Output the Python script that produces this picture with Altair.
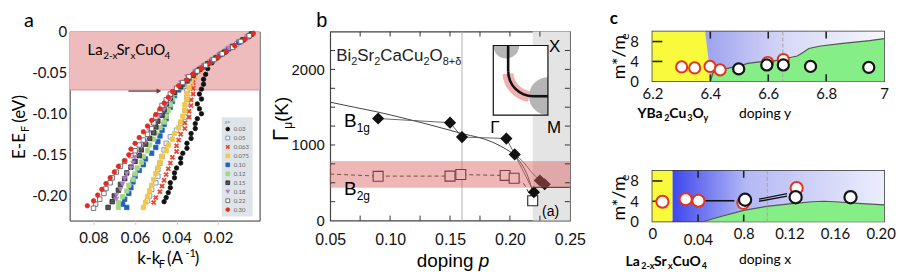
import altair as alt
import pandas as pd

FA = "Lato"
FB = "Liberation Sans"
PI = 3.14159265

# ===================== DATA : panel a (LSCO dispersions) =====================
a_dopings = ["0.03", "0.05", "0.063", "0.075", "0.10", "0.12", "0.15", "0.18", "0.22", "0.30"]
XPATH = "M-1,-0.6L-0.6,-1L0,-0.4L0.6,-1L1,-0.6L0.4,0L1,0.6L0.6,1L0,0.4L-0.6,1L-1,0.6L-0.4,0Z"
a_fill = ["#111111", "#ffffff", "#e5432b", "#f3c64a", "#1f5fbf", "#a5d585", "#555555", "#b27cc8", "#ffffff", "#e8281e"]
a_stroke = ["#111111", "#5a7ec6", "#e5432b", "#f3c64a", "#1f5fbf", "#a5d585", "#222222", "#b27cc8", "#555555", "#e8281e"]
a_shape = ["circle", "square", XPATH, "square", "square", "square", "square", "triangle-down", "square", "circle"]

k_003 = [0.004, 0.008, 0.012, 0.016, 0.020, 0.023, 0.025, 0.026, 0.027, 0.027, 0.028, 0.029, 0.028, 0.030, 0.029, 0.028, 0.030, 0.031, 0.031, 0.033, 0.033, 0.035, 0.035, 0.037, 0.038, 0.038, 0.040, 0.041, 0.041, 0.043, 0.043, 0.044, 0.045, 0.046]
E_003 = [-0.003, -0.010, -0.017, -0.024, -0.031, -0.038, -0.045, -0.052, -0.058, -0.064, -0.070, -0.076, -0.082, -0.088, -0.094, -0.100, -0.106, -0.112, -0.118, -0.124, -0.130, -0.136, -0.142, -0.148, -0.154, -0.160, -0.166, -0.172, -0.178, -0.184, -0.190, -0.196, -0.202, -0.207]
k_050 = [0.006, 0.011, 0.016, 0.020, 0.024, 0.028, 0.031, 0.033, 0.034, 0.035, 0.035, 0.035, 0.036, 0.036, 0.038, 0.040, 0.043, 0.045, 0.046, 0.047, 0.048, 0.049, 0.049, 0.050, 0.052, 0.053, 0.054]
E_050 = [-0.007, -0.015, -0.023, -0.030, -0.037, -0.044, -0.051, -0.058, -0.065, -0.072, -0.080, -0.088, -0.096, -0.104, -0.112, -0.120, -0.128, -0.136, -0.144, -0.152, -0.160, -0.168, -0.176, -0.184, -0.192, -0.200, -0.206]
k_063 = [0.005, 0.010, 0.014, 0.018, 0.022, 0.026, 0.029, 0.031, 0.032, 0.032, 0.032, 0.033, 0.033, 0.034, 0.034, 0.036, 0.036, 0.038, 0.039, 0.040, 0.040, 0.042, 0.043, 0.044, 0.045, 0.046, 0.047, 0.048, 0.050, 0.051]
E_063 = [-0.006, -0.013, -0.020, -0.027, -0.034, -0.041, -0.048, -0.055, -0.062, -0.069, -0.076, -0.083, -0.090, -0.097, -0.104, -0.111, -0.118, -0.125, -0.132, -0.139, -0.146, -0.153, -0.160, -0.167, -0.174, -0.181, -0.188, -0.195, -0.202, -0.208]
k_075 = [0.004, 0.009, 0.013, 0.017, 0.021, 0.025, 0.028, 0.031, 0.033, 0.034, 0.035, 0.035, 0.036, 0.036, 0.037, 0.038, 0.039, 0.041, 0.042, 0.044, 0.045, 0.047, 0.048, 0.049, 0.050, 0.051, 0.052, 0.053, 0.054, 0.055, 0.056]
E_075 = [-0.004, -0.012, -0.019, -0.026, -0.033, -0.040, -0.047, -0.054, -0.061, -0.068, -0.075, -0.082, -0.089, -0.096, -0.103, -0.110, -0.117, -0.124, -0.131, -0.138, -0.145, -0.152, -0.159, -0.166, -0.173, -0.180, -0.187, -0.194, -0.201, -0.208, -0.214]
k_010 = [0.005, 0.010, 0.015, 0.019, 0.023, 0.027, 0.031, 0.034, 0.037, 0.039, 0.041, 0.042, 0.043, 0.045, 0.045, 0.046, 0.047, 0.048, 0.049, 0.050, 0.052, 0.055, 0.056, 0.058, 0.060, 0.061, 0.062, 0.063, 0.065, 0.066, 0.064]
E_010 = [-0.005, -0.013, -0.021, -0.028, -0.036, -0.043, -0.050, -0.057, -0.064, -0.071, -0.078, -0.085, -0.092, -0.099, -0.106, -0.113, -0.120, -0.127, -0.134, -0.141, -0.148, -0.155, -0.162, -0.169, -0.176, -0.183, -0.190, -0.197, -0.204, -0.210, -0.214]
k_012 = [0.005, 0.009, 0.014, 0.018, 0.022, 0.026, 0.030, 0.033, 0.036, 0.039, 0.041, 0.042, 0.043, 0.044, 0.045, 0.046, 0.048, 0.050, 0.051, 0.053, 0.054, 0.056, 0.057, 0.059, 0.060, 0.061, 0.063, 0.064, 0.066, 0.068, 0.068]
E_012 = [-0.004, -0.011, -0.019, -0.026, -0.033, -0.040, -0.047, -0.054, -0.061, -0.068, -0.075, -0.082, -0.089, -0.096, -0.103, -0.110, -0.117, -0.124, -0.131, -0.138, -0.145, -0.152, -0.159, -0.166, -0.173, -0.180, -0.187, -0.194, -0.201, -0.208, -0.214]
k_015 = [0.004, 0.008, 0.013, 0.017, 0.021, 0.025, 0.029, 0.032, 0.035, 0.038, 0.041, 0.043, 0.045, 0.046, 0.047, 0.049, 0.050, 0.051, 0.053, 0.055, 0.057, 0.058, 0.060, 0.062, 0.064, 0.065, 0.067, 0.068, 0.070, 0.071, 0.073]
E_015 = [-0.003, -0.010, -0.018, -0.025, -0.032, -0.039, -0.046, -0.053, -0.060, -0.067, -0.074, -0.081, -0.088, -0.095, -0.102, -0.109, -0.116, -0.123, -0.130, -0.137, -0.144, -0.151, -0.158, -0.165, -0.172, -0.179, -0.186, -0.193, -0.200, -0.207, -0.214]
k_018 = [0.006, 0.010, 0.015, 0.019, 0.023, 0.027, 0.031, 0.035, 0.038, 0.040, 0.042, 0.043, 0.045, 0.046, 0.048, 0.050, 0.051, 0.053, 0.054, 0.055, 0.057, 0.059, 0.060, 0.061, 0.062, 0.064, 0.065, 0.066, 0.067, 0.069, 0.069]
E_018 = [-0.006, -0.012, -0.020, -0.027, -0.034, -0.041, -0.048, -0.055, -0.062, -0.069, -0.076, -0.082, -0.089, -0.095, -0.101, -0.108, -0.114, -0.121, -0.127, -0.134, -0.140, -0.147, -0.153, -0.160, -0.166, -0.173, -0.179, -0.186, -0.192, -0.199, -0.204]
k_022 = [0.005, 0.009, 0.013, 0.018, 0.022, 0.026, 0.030, 0.034, 0.037, 0.040, 0.043, 0.045, 0.047, 0.048, 0.050, 0.051, 0.052, 0.054, 0.056, 0.058, 0.060, 0.062, 0.065, 0.067, 0.069, 0.071, 0.072, 0.074, 0.075, 0.077, 0.079, 0.080]
E_022 = [-0.005, -0.012, -0.019, -0.027, -0.034, -0.041, -0.048, -0.055, -0.062, -0.069, -0.076, -0.083, -0.090, -0.097, -0.104, -0.111, -0.118, -0.125, -0.132, -0.138, -0.145, -0.151, -0.158, -0.164, -0.171, -0.178, -0.184, -0.191, -0.197, -0.204, -0.210, -0.215]
k_030 = [0.003, 0.007, 0.012, 0.016, 0.020, 0.024, 0.028, 0.032, 0.035, 0.039, 0.042, 0.044, 0.046, 0.048, 0.050, 0.052, 0.054, 0.056, 0.058, 0.060, 0.062, 0.063, 0.065, 0.068, 0.070, 0.072, 0.074, 0.076, 0.078, 0.080, 0.083]
E_030 = [-0.002, -0.009, -0.017, -0.024, -0.031, -0.038, -0.045, -0.052, -0.059, -0.066, -0.073, -0.080, -0.087, -0.094, -0.101, -0.108, -0.115, -0.122, -0.129, -0.136, -0.143, -0.150, -0.157, -0.164, -0.171, -0.178, -0.185, -0.192, -0.199, -0.206, -0.212]

a_series = {"0.03": (k_003, E_003), "0.05": (k_050, E_050), "0.063": (k_063, E_063),
            "0.075": (k_075, E_075), "0.10": (k_010, E_010), "0.12": (k_012, E_012),
            "0.15": (k_015, E_015), "0.18": (k_018, E_018), "0.22": (k_022, E_022),
            "0.30": (k_030, E_030)}
a_band_E = [-0.071, 0.0]
a_arrow_k = [0.0632, 0.0485]
a_arrow_E = -0.0724
a_xticks = [0.08, 0.06, 0.04, 0.02]
a_yticks = [0, -0.05, -0.10, -0.15, -0.20]

# ===================== DATA : panel b (Bi2212 Raman) =====================
b1g_p = [0.09, 0.15, 0.16, 0.197, 0.204, 0.22, 0.225, 0.229]
b1g_G = [1350, 1295, 1105, 1085, 875, 375, 530, 480]
b2g_p = [0.09, 0.15, 0.159, 0.196, 0.2035, 0.219]
b2g_G = [585, 588, 610, 597, 560, 262]
b1g_fit_p = [0.05, 0.07, 0.09, 0.11, 0.13, 0.15, 0.16, 0.174, 0.185, 0.195, 0.204, 0.210, 0.214, 0.2177, 0.219]
b1g_fit_G = [1566, 1500, 1435, 1360, 1280, 1195, 1150, 1100, 1040, 960, 860, 740, 620, 450, 370]
b1g_link_p = [0.09, 0.15, 0.16, 0.197, 0.204, 0.22]
b1g_link_G = [1350, 1295, 1105, 1085, 875, 375]
b1g_branch_p = [0.204, 0.212, 0.218, 0.225]
b1g_branch_G = [875, 760, 640, 530]
b2g_line_p = [0.05, 0.09, 0.15, 0.159, 0.196, 0.2035, 0.212, 0.218]
b2g_line_G = [615, 588, 588, 608, 597, 560, 480, 300]
b_band_G = [440, 780]
b_over_p = [0.219, 0.25]
b_opt_p = [0.16]
b_xticks = [0.05, 0.10, 0.15, 0.20, 0.25]
b_yticks = [0, 1000, 2000]
b_minor_G = [250, 500, 750, 1000, 1250, 1500, 1750, 2000, 2250]
b_minor_p = [0.075, 0.1, 0.125, 0.15, 0.175, 0.2, 0.225]
inset_box_p = [0.1861, 0.2317]
inset_box_G = [1395, 2316]
inset_gray_p = [0.1969, 0.2317]
inset_gray_G = [2316, 1645]
inset_arc_p = 0.2193
inset_arc_G = 1974
inset_vert_p = 0.1985
inset_horz_G = 1645

# ===================== DATA : panel c =====================
c1_red_y = [6.301, 6.346, 6.399, 6.434, 6.598, 6.652]
c1_red_m = [2.9, 2.7, 3.0, 2.3, 3.8, 4.4]
c1_blk_y = [6.498, 6.595, 6.652, 6.746, 6.947]
c1_blk_m = [2.5, 3.3, 3.3, 3.0, 2.8]
c1_green_y = [6.40, 6.41, 6.45, 6.50, 6.53, 6.57, 6.62, 6.66, 6.70, 6.72, 6.74, 6.78, 6.85, 6.90, 6.95, 7.0]
c1_green_m = [0.0, 1.8, 2.5, 3.1, 3.6, 3.9, 4.1, 4.6, 5.1, 5.8, 6.6, 7.1, 7.6, 7.9, 8.2, 8.6]
c1_yellow_y = [6.403, 6.382]
c1_yellow_m = [0, 10]
c1_blue_y = [6.38, 7.0]
c1_opt = [6.65]
c1_xticks = [6.2, 6.4, 6.6, 6.8, 7.0]
c1_inticks = [6.4, 6.6, 6.8]

c2_red_x = [0.0088, 0.0292, 0.0403, 0.0797, 0.1264]
c2_red_m = [3.9, 4.4, 4.1, 3.7, 6.6]
c2_blk_x = [0.0812, 0.1255, 0.1736]
c2_blk_m = [4.3, 4.8, 4.8]
c2_green_x = [0.045, 0.06, 0.08, 0.10, 0.12, 0.14, 0.15, 0.16, 0.18, 0.203]
c2_green_m = [0.0, 1.0, 2.2, 3.0, 3.5, 3.9, 4.0, 3.9, 3.6, 3.3]
c2_yellow_x = [0.0, 0.0175]
c2_opt = [0.1007]
c2_dash_x = [0.0464, 0.0718]
c2_dash_m = [4.1, 4.1]
c2_slant_x1 = [0.0934, 0.0934]
c2_slant_x2 = [0.118, 0.118]
c2_slant_m1 = [4.0, 4.4]
c2_slant_m2 = [5.0, 5.5]
c2_xticks = [0, 0.04, 0.08, 0.12, 0.16, 0.2]
c2_inticks = [0.04, 0.08]
c_yticks = [0, 4, 8]
c_inyticks = [4, 8]

# ===================== helpers =====================
CW = {"A": .667, "B": .667, "C": .722, "E": .667, "F": .611, "K": .667, "L": .556, "M": .833,
      "O": .778, "S": .667, "X": .667, "Y": .667, "Γ": .556, "a": .556, "b": .556, "c": .5,
      "d": .556, "e": .556, "g": .556, "i": .222, "k": .5, "l": .222, "m": .833, "n": .556,
      "o": .556, "p": .556, "r": .333, "u": .556, "V": .667, "x": .5, "y": .5, ".": .278,
      "-": .333, "+": .584, "(": .333, ")": .333, " ": .278, "*": .389, "/": .278, "δ": .556,
      "μ": .576}


def tw(s, size, font, bold=False):
    f = 0.95 if font == FA else 1.0
    if bold:
        f *= 1.07
    return sum(CW.get(ch, 0.556) for ch in s) * size * f


def rich(parts, x, y, font, weight="normal", color="black", angle=0):
    """parts: (text, size, baseline shift[, style[, extra gap before]])"""
    out = []
    pos = 0.0
    for part in parts:
        txt, size, shift = part[0], part[1], part[2]
        style = part[3] if len(part) > 3 else "normal"
        gap = part[4] if len(part) > 4 else 0
        pos += gap
        if angle == 0:
            px, py = x + pos, y + shift
        else:
            px, py = x + shift, y - pos
        out.append(
            alt.Chart(pd.DataFrame({"t": [txt]}))
            .mark_text(align="left", baseline="alphabetic", font=font, fontSize=size,
                       fontWeight=weight, fontStyle=style, color=color, angle=angle)
            .encode(text="t:N", x=alt.value(px), y=alt.value(py))
        )
        pos += tw(txt, size, font, weight == "bold")
    return out


def label(txt, x, y, font, size, weight="normal", color="black"):
    return rich([(txt, size, 0)], x, y, font, weight, color)


# ===================== panel a =====================
WA, HA = 191, 190
xa = alt.Scale(domain=[0, 0.0915], reverse=True, nice=False, zero=False)
ya = alt.Scale(domain=[-0.23, 0], nice=False, zero=False)
ax_a_x = alt.Axis(values=a_xticks, format=".2f", title=None, grid=False, domain=False,
                  tickColor="#c8c8c8", tickSize=4, labelFont=FA, labelFontSize=15,
                  labelColor="#111", labelPadding=6, labelFlush=False)
ax_a_y = alt.Axis(values=a_yticks, title=None, grid=False, domain=False, ticks=False,
                  labelExpr="datum.value == 0 ? '0' : '-' + format(-datum.value, '.2f')",
                  labelFont=FA, labelFontSize=15, labelColor="#111", labelPadding=3,
                  labelFlush=False)


def XA(f):
    return alt.X(f, scale=xa, axis=ax_a_x)


def YA(f):
    return alt.Y(f, scale=ya, axis=ax_a_y)


rows = []
for i, d in enumerate(a_dopings):
    ks, Es = a_series[d]
    for kk, ee in zip(ks, Es):
        rows.append({"k": kk, "E": ee, "x": d, "o": i})
df_a = pd.DataFrame(rows)

band_a = alt.Chart(pd.DataFrame({"k1": [0.0], "k2": [0.0915], "E1": [a_band_E[0]], "E2": [a_band_E[1]]})) \
    .mark_rect(color="#eebcbc").encode(x=XA("k1:Q"), x2="k2:Q", y=YA("E1:Q"), y2="E2:Q")
band_edge_a = alt.Chart(pd.DataFrame({"E": [a_band_E[0]]})).mark_rule(color="#e08c8c", strokeWidth=1) \
    .encode(y=YA("E:Q"))
arrow_a = alt.Chart(pd.DataFrame({"k1": [a_arrow_k[0]], "k2": [a_arrow_k[1]], "E": [a_arrow_E]})) \
    .mark_rule(color="#6a3b3b", strokeWidth=1.3).encode(x=XA("k1:Q"), x2="k2:Q", y=YA("E:Q"))
head_a = alt.Chart(pd.DataFrame({"k": [a_arrow_k[1]], "E": [a_arrow_E]})) \
    .mark_point(shape="triangle-right", filled=True, size=28, color="#6a3b3b", opacity=1) \
    .encode(x=XA("k:Q"), y=YA("E:Q"))

leg_a = alt.Legend(title="x=", orient="none", legendX=153, legendY=86, fillColor="#dfe4e8",
                   padding=3, titleFontSize=5, titleFontWeight="normal", titleColor="#888",
                   titleFont=FA, labelFont=FA, labelFontSize=6, labelColor="#666", symbolSize=14,
                   rowPadding=1, titlePadding=1, labelOffset=3, symbolStrokeWidth=0.8)
pts_a = alt.Chart(df_a).mark_point(filled=True, size=20, strokeWidth=0.8, opacity=1).encode(
    x=XA("k:Q"), y=YA("E:Q"),
    fill=alt.Fill("x:N", scale=alt.Scale(domain=a_dopings, range=a_fill), legend=leg_a),
    stroke=alt.Stroke("x:N", scale=alt.Scale(domain=a_dopings, range=a_stroke), legend=leg_a),
    shape=alt.Shape("x:N", scale=alt.Scale(domain=a_dopings, range=a_shape), legend=leg_a),
)

texts_a = []
texts_a += label("a", -46, -5, FA, 20)
texts_a += rich([("La", 15, 0), ("2-x", 10, 4), ("Sr", 15, 0), ("x", 10, 4), ("CuO", 15, 0), ("4", 10, 4)],
                18, 24, FA)
texts_a += rich([("E-E", 17, 0), ("F", 11, 4), (" (eV)", 17, 0, "normal", 3)], -45, 128, FA, angle=270)
texts_a += rich([("k-k", 17, 0), ("F", 11, 4), (" (A", 17, 0, "normal", 2), ("-1", 11, -7, "normal", -2),
                 (")", 17, 0)], 68, 234, FA)

panel_a = alt.layer(band_a, band_edge_a, arrow_a, head_a, pts_a, *texts_a).properties(
    width=WA, height=HA, view=alt.ViewBackground(stroke="#333333", strokeWidth=1))

# ===================== panel b =====================
WB, HB = 241, 190
xb = alt.Scale(domain=[0.05, 0.25], nice=False, zero=False)
yb = alt.Scale(domain=[0, 2500], nice=False)
ax_b_x = alt.Axis(values=b_xticks, format=".2f", title=None, grid=False, domain=False, ticks=False,
                  labelFont=FB, labelFontSize=16, labelColor="#111", labelPadding=11, labelFlush=False)
ax_b_y = alt.Axis(values=b_yticks, format="d", title=None, grid=False, domain=False, ticks=False,
                  labelFont=FB, labelFontSize=15, labelColor="#111", labelPadding=6, labelFlush=False)


def XB(f):
    return alt.X(f, scale=xb, axis=ax_b_x)


def YB(f):
    return alt.Y(f, scale=yb, axis=ax_b_y)


over_b = alt.Chart(pd.DataFrame({"p1": [b_over_p[0]], "p2": [b_over_p[1]], "g1": [0], "g2": [2500]})) \
    .mark_rect(color="#e4e4e4").encode(x=XB("p1:Q"), x2="p2:Q", y=YB("g1:Q"), y2="g2:Q")
opt_b = alt.Chart(pd.DataFrame({"p": b_opt_p})).mark_rule(color="#b0b0b0", strokeWidth=1) \
    .encode(x=XB("p:Q"))
fit_b = alt.Chart(pd.DataFrame({"p": b1g_fit_p, "G": b1g_fit_G})) \
    .mark_line(color="#444", strokeWidth=1, interpolate="monotone").encode(x=XB("p:Q"), y=YB("G:Q"))
link_b = alt.Chart(pd.DataFrame({"p": b1g_link_p, "G": b1g_link_G})) \
    .mark_line(color="#555", strokeWidth=0.9).encode(x=XB("p:Q"), y=YB("G:Q"))
branch_b = alt.Chart(pd.DataFrame({"p": b1g_branch_p, "G": b1g_branch_G})) \
    .mark_line(color="#555", strokeWidth=0.9, interpolate="monotone").encode(x=XB("p:Q"), y=YB("G:Q"))
b2gl_b = alt.Chart(pd.DataFrame({"p": b2g_line_p, "G": b2g_line_G})) \
    .mark_line(color="#333", strokeWidth=1, strokeDash=[4, 3]).encode(x=XB("p:Q"), y=YB("G:Q"))
hline_b = alt.Chart(pd.DataFrame({"p1": [b_over_p[0]], "p2": [b_over_p[1]], "G": [b_band_G[0]]})) \
    .mark_rule(color="#333", strokeWidth=1.3).encode(x=XB("p1:Q"), x2="p2:Q", y=YB("G:Q"))
dia_b = alt.Chart(pd.DataFrame({"p": b1g_p, "G": b1g_G})) \
    .mark_point(shape="diamond", filled=True, size=150, color="#111", opacity=1) \
    .encode(x=XB("p:Q"), y=YB("G:Q"))
sq_b = alt.Chart(pd.DataFrame({"p": b2g_p, "G": b2g_G})) \
    .mark_point(shape="square", fill="white", stroke="#222", strokeWidth=1.1, size=100, opacity=1,
                fillOpacity=1) \
    .encode(x=XB("p:Q"), y=YB("G:Q"))
band_b = alt.Chart(pd.DataFrame({"g1": [b_band_G[0]], "g2": [b_band_G[1]], "p1": [0.05], "p2": [0.25]})) \
    .mark_rect(color="#dd6060", opacity=0.45, stroke="#cc6a6a", strokeWidth=0.8) \
    .encode(x=XB("p1:Q"), x2="p2:Q", y=YB("g1:Q"), y2="g2:Q")
tick_l = alt.Chart(pd.DataFrame({"G": b_minor_G})).mark_rule(color="#333", strokeWidth=1) \
    .encode(y=YB("G:Q"), x=alt.value(0), x2=alt.value(5))
tick_r = alt.Chart(pd.DataFrame({"G": b_minor_G})).mark_rule(color="#333", strokeWidth=1) \
    .encode(y=YB("G:Q"), x=alt.value(WB - 5), x2=alt.value(WB))
tick_t = alt.Chart(pd.DataFrame({"p": b_minor_p})).mark_rule(color="#333", strokeWidth=1) \
    .encode(x=XB("p:Q"), y=alt.value(0), y2=alt.value(5))
tick_bt = alt.Chart(pd.DataFrame({"p": b_minor_p})).mark_rule(color="#333", strokeWidth=1) \
    .encode(x=XB("p:Q"), y=alt.value(HB - 5), y2=alt.value(HB))

# inset (Fermi surface sketch)
inset_df = pd.DataFrame({"p1": [inset_box_p[0]], "p2": [inset_box_p[1]], "g1": [inset_box_G[0]], "g2": [inset_box_G[1]]})
inset_fill = alt.Chart(inset_df).mark_rect(fill="white").encode(x=XB("p1:Q"), x2="p2:Q", y=YB("g1:Q"), y2="g2:Q")
gray1 = alt.Chart(pd.DataFrame({"p": [inset_gray_p[0]], "G": [inset_gray_G[0]]})) \
    .mark_arc(color="#b5b5b5", radius=13, theta=PI / 2, theta2=3 * PI / 2).encode(x=XB("p:Q"), y=YB("G:Q"))
gray2 = alt.Chart(pd.DataFrame({"p": [inset_gray_p[1]], "G": [inset_gray_G[1]]})) \
    .mark_arc(color="#b5b5b5", radius=19, theta=PI, theta2=2 * PI).encode(x=XB("p:Q"), y=YB("G:Q"))
pink_arc = alt.Chart(pd.DataFrame({"p": [inset_arc_p], "G": [inset_arc_G]})) \
    .mark_arc(color="#efb0b0", radius=31, radius2=20, theta=3.3, theta2=4.62).encode(x=XB("p:Q"), y=YB("G:Q"))
blk_arc = alt.Chart(pd.DataFrame({"p": [inset_arc_p], "G": [inset_arc_G]})) \
    .mark_arc(color="#111", radius=26.3, radius2=23.7, theta=PI, theta2=3 * PI / 2).encode(x=XB("p:Q"), y=YB("G:Q"))
blk_v = alt.Chart(pd.DataFrame({"p": [inset_vert_p], "g1": [inset_arc_G], "g2": [inset_box_G[1]]})) \
    .mark_rule(color="#111", strokeWidth=2.6).encode(x=XB("p:Q"), y=YB("g1:Q"), y2="g2:Q")
blk_h = alt.Chart(pd.DataFrame({"p1": [inset_arc_p], "p2": [inset_box_p[1]], "G": [inset_horz_G]})) \
    .mark_rule(color="#111", strokeWidth=2.6).encode(x=XB("p1:Q"), x2="p2:Q", y=YB("G:Q"))
inset_frame = alt.Chart(inset_df).mark_rect(fill=None, fillOpacity=0, stroke="#111", strokeWidth=1.2) \
    .encode(x=XB("p1:Q"), x2="p2:Q", y=YB("g1:Q"), y2="g2:Q")

texts_b = []
texts_b += label("b", -14, -5, FB, 20)
texts_b += rich([("Bi", 17, 0), ("2", 11, 4), ("Sr", 17, 0), ("2", 11, 4), ("CaCu", 17, 0), ("2", 11, 4),
                 ("O", 17, 0), ("8+δ", 11, 4)], 6, 30, FB, color="#222")
texts_b += rich([("B", 19, 0), ("1g", 12, 5)], 14, 96, FB)
texts_b += rich([("B", 19, 0), ("2g", 12, 5)], 14, 164, FB)
texts_b += label("X", 220, 21, FB, 17)
texts_b += label("Γ", 161, 102, FB, 17)
texts_b += label("M", 218, 102, FB, 17)
texts_b += label("(a)", 213, 185, FB, 14)
texts_b += rich([("Γ", 22, 0), ("μ", 12, 4), (" (K)", 19, 0)], -42, 110, FB, angle=270)
texts_b += rich([("doping ", 19, 0), ("p", 19, 0, "italic")], 87, 237, FB)

panel_b = alt.layer(over_b, opt_b, fit_b, link_b, branch_b, b2gl_b, hline_b, sq_b, dia_b, band_b,
                    tick_l, tick_r, tick_t, tick_bt,
                    inset_fill, gray1, gray2, pink_arc, blk_arc, blk_v, blk_h, inset_frame,
                    *texts_b).properties(
    width=WB, height=HB, view=alt.ViewBackground(stroke="#444444", strokeWidth=1.2))

# ===================== panel c =====================
WC, HC1, HC2 = 233, 50, 51
yc = alt.Scale(domain=[0, 10], nice=False)
ax_c_y = alt.Axis(values=c_yticks, title=None, grid=False, domain=False, ticks=False, labelFont=FA,
                  labelFontSize=15, labelColor="#111", labelPadding=14, labelFlush=False)
xc1 = alt.Scale(domain=[6.2, 7.0], nice=False, zero=False)
ax_c1_x = alt.Axis(values=c1_xticks, title=None, grid=False, domain=False, ticks=False, labelFont=FA,
                   labelFontSize=15, labelColor="#111", labelPadding=5, labelFlush=False,
                   labelExpr="datum.value == 7 ? '7' : format(datum.value, '.1f')")
xc2 = alt.Scale(domain=[0, 0.203], nice=False, zero=False)
ax_c2_x = alt.Axis(values=c2_xticks, title=None, grid=False, domain=False, ticks=False, labelFont=FA,
                   labelFontSize=15, labelColor="#111", labelFlush=False,
                   labelPadding={"condition": {"test": "datum.value == 0.04", "value": 11}, "value": 5},
                   labelExpr="datum.value == 0 ? '0' : datum.value == 0.08 ? '0.8' : format(datum.value, '.2f')")


def YC(f):
    return alt.Y(f, scale=yc, axis=ax_c_y)


def XC1(f):
    return alt.X(f, scale=xc1, axis=ax_c1_x)


def XC2(f):
    return alt.X(f, scale=xc2, axis=ax_c2_x)


grad1 = alt.LinearGradient(gradient="linear", x1=0, x2=1, y1=0, y2=0, stops=[
    alt.GradientStop(color="#9ca1ee", offset=0), alt.GradientStop(color="#d6d8f7", offset=0.45),
    alt.GradientStop(color="#f7f7fd", offset=1)])
grad2 = alt.LinearGradient(gradient="linear", x1=0, x2=1, y1=0, y2=0, stops=[
    alt.GradientStop(color="#3d47ee", offset=0), alt.GradientStop(color="#b4b8f4", offset=0.35),
    alt.GradientStop(color="#eceefc", offset=1)])


def c_panel(XC, W, H, blue_x, yellow_df, green_x, green_m, opt, inticks, red_x, red_m, blk_x, blk_m, grad,
            size, extra):
    blue = alt.Chart(pd.DataFrame({"a": [blue_x[0]], "b": [blue_x[1]], "m1": [0], "m2": [10]})) \
        .mark_rect(color=grad).encode(x=XC("a:Q"), x2="b:Q", y=YC("m1:Q"), y2="m2:Q")
    green = alt.Chart(pd.DataFrame({"v": green_x, "m": green_m})).mark_area(color="#86ee86", opacity=1) \
        .encode(x=XC("v:Q"), y=YC("m:Q"))
    gline = alt.Chart(pd.DataFrame({"v": green_x, "m": green_m})).mark_line(color="#555", strokeWidth=1.2) \
        .encode(x=XC("v:Q"), y=YC("m:Q"))
    optl = alt.Chart(pd.DataFrame({"v": opt})).mark_rule(color="#aaaaaa", strokeWidth=1.2, strokeDash=[4, 2]) \
        .encode(x=XC("v:Q"))
    tt = alt.Chart(pd.DataFrame({"v": inticks})).mark_rule(color="#222", strokeWidth=1.6) \
        .encode(x=XC("v:Q"), y=alt.value(0), y2=alt.value(7))
    tb = alt.Chart(pd.DataFrame({"v": inticks})).mark_rule(color="#222", strokeWidth=1.6) \
        .encode(x=XC("v:Q"), y=alt.value(H - 7), y2=alt.value(H))
    tl = alt.Chart(pd.DataFrame({"m": c_inyticks})).mark_rule(color="#222", strokeWidth=1.6) \
        .encode(y=YC("m:Q"), x=alt.value(0), x2=alt.value(10))
    red = alt.Chart(pd.DataFrame({"v": red_x, "m": red_m})) \
        .mark_point(shape="circle", fill="white", stroke="#e5321c", strokeWidth=2, size=size, opacity=1,
                    fillOpacity=1).encode(x=XC("v:Q"), y=YC("m:Q"))
    blk = alt.Chart(pd.DataFrame({"v": blk_x, "m": blk_m})) \
        .mark_point(shape="circle", fill="white", stroke="#151515", strokeWidth=2.2, size=size, opacity=1,
                    fillOpacity=1).encode(x=XC("v:Q"), y=YC("m:Q"))
    return [blue, yellow_df, green, gline, optl, tt, tb, tl] + extra + [red, blk]


yellow1 = alt.Chart(pd.DataFrame({"m": c1_yellow_m, "v": c1_yellow_y, "v0": [6.2, 6.2]})) \
    .mark_area(orient="horizontal", color="#fafa3c", opacity=1).encode(y=YC("m:Q"), x=XC1("v:Q"), x2="v0:Q")
yellow2 = alt.Chart(pd.DataFrame({"a": [c2_yellow_x[0]], "b": [c2_yellow_x[1]], "m1": [0], "m2": [10]})) \
    .mark_rect(color="#fafa3c").encode(x=XC2("a:Q"), x2="b:Q", y=YC("m1:Q"), y2="m2:Q")

dash2 = alt.Chart(pd.DataFrame({"a": [c2_dash_x[0]], "b": [c2_dash_x[1]], "m": [c2_dash_m[0]]})) \
    .mark_rule(color="#111", strokeWidth=1.6).encode(x=XC2("a:Q"), x2="b:Q", y=YC("m:Q"))
slant2 = alt.Chart(pd.DataFrame({"a": c2_slant_x1, "b": c2_slant_x2, "m1": c2_slant_m1, "m2": c2_slant_m2})) \
    .mark_rule(color="#111", strokeWidth=1.3).encode(x=XC2("a:Q"), x2="b:Q", y=YC("m1:Q"), y2="m2:Q")

texts_c1 = []
texts_c1 += label("c", -43, -7.4, FA, 17, weight="bold")
texts_c1 += rich([("m*/m", 18, 0), ("e", 12, 4)], -28, 48, FA, angle=270)
texts_c1 += rich([("YBa", 14, 0), ("2", 9, 3), ("Cu", 14, 0), ("3", 9, 3), ("O", 14, 0), ("y", 9, 3)],
                 -15, 87, FA, weight="bold")
texts_c1 += label("doping y", 87, 87, FA, 14)

texts_c2 = []
texts_c2 += rich([("m*/m", 18, 0), ("e", 12, 4)], -28, 50, FA, angle=270)
texts_c2 += rich([("La", 14, 0), ("2-x", 9, 3), ("Sr", 14, 0), ("x", 9, 3), ("CuO", 14, 0), ("4", 9, 3)],
                 -27, 96, FA, weight="bold")
texts_c2 += label("doping x", 87, 94, FA, 14)

c1 = alt.layer(*c_panel(XC1, WC, HC1, c1_blue_y, yellow1, c1_green_y, c1_green_m, c1_opt, c1_inticks,
                        c1_red_y, c1_red_m, c1_blk_y, c1_blk_m, grad1, 125, []), *texts_c1) \
    .properties(width=WC, height=HC1, view=alt.ViewBackground(stroke="#333333", strokeWidth=1.5))
c2 = alt.layer(*c_panel(XC2, WC, HC2, [c2_yellow_x[1], 0.203], yellow2, c2_green_x, c2_green_m, c2_opt,
                        c2_inticks, c2_red_x, c2_red_m, c2_blk_x, c2_blk_m, grad2, 150, [dash2, slant2]),
               *texts_c2) \
    .properties(width=WC, height=HC2, view=alt.ViewBackground(stroke="#333333", strokeWidth=1.5))

panel_c = alt.vconcat(c1, c2, spacing=90, bounds="flush")


def spacer(w):
    return alt.Chart(pd.DataFrame({"v": [0]})).mark_point(opacity=0).encode(
        x=alt.value(0), y=alt.value(0)).properties(width=w, height=10,
                                                   view=alt.ViewBackground(strokeOpacity=0))


chart = alt.hconcat(panel_a, spacer(71), panel_b, spacer(83), panel_c, spacing=0, bounds="flush") \
    .properties(padding={"left": 2, "top": 0, "right": 5, "bottom": 0}) \
    .configure_view(strokeWidth=0) \
    .configure(font=FA)

chart.save("out.html", embed_options={"renderer": "svg", "actions": False})
